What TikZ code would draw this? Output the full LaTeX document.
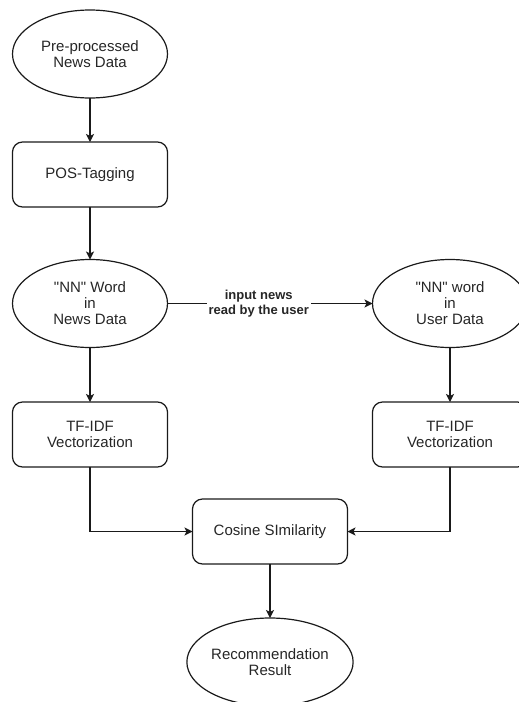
\documentclass[tikz,border=0pt]{standalone}
\usepackage{fontspec}
\setmainfont{Liberation Sans}[Ligatures=TeXOff]
\usetikzlibrary{shapes.geometric,arrows.meta}
\definecolor{txt}{HTML}{262626}
\definecolor{ln}{HTML}{1A1A1A}
\tikzset{
  base/.style={draw=ln, line width=1.2pt, text=txt, align=center,
    font=\fontsize{15}{16}\selectfont, inner sep=0pt, outer sep=0pt},
  oval/.style={base, ellipse, minimum width=155pt, minimum height=88pt},
  rbox/.style={base, rectangle, rounded corners=10pt, minimum width=155pt, minimum height=65pt},
  conn/.style={draw=ln, line width=1.2pt, -{Stealth[length=8pt,width=8pt,inset=2pt]}},
  lbl/.style={fill=white, text=txt, align=center, font=\bfseries\fontsize{13}{15}\selectfont, inner sep=2pt}
}
\begin{document}
\begin{tikzpicture}[x=1pt,y=-1pt]
\useasboundingbox (0,0) rectangle (519,702);
\clip (0,0) rectangle (519,702);
\node[oval] (pre) at (90,54) {Pre-processed\\News Data};
\node[rbox] (pos) at (90,174.5) {POS-Tagging};
\node[oval] (nnn) at (90,303.5) {"NN" Word\\in\\News Data};
\node[oval] (nnu) at (450,303.5) {"NN" word\\in\\User Data};
\node[rbox] (tfl) at (90,434.5) {TF-IDF\\Vectorization};
\node[rbox] (tfr) at (450,434.5) {TF-IDF\\Vectorization};
\node[rbox] (cos) at (270,531.5) {Cosine SImilarity};
\node[oval] (rec) at (270,662) {Recommendation\\Result};
\draw[conn] (pre) -- (pos);
\draw[conn] (pos) -- (nnn);
\draw[conn] (nnn) -- node[lbl, pos=0.445] {input news\\read by the user} (nnu);
\draw[conn] (nnn) -- (tfl);
\draw[conn] (nnu) -- (tfr);
\draw[conn] (tfl.south) |- (cos.west);
\draw[conn] (tfr.south) |- (cos.east);
\draw[conn] (cos) -- (rec);
\end{tikzpicture}
\end{document}
